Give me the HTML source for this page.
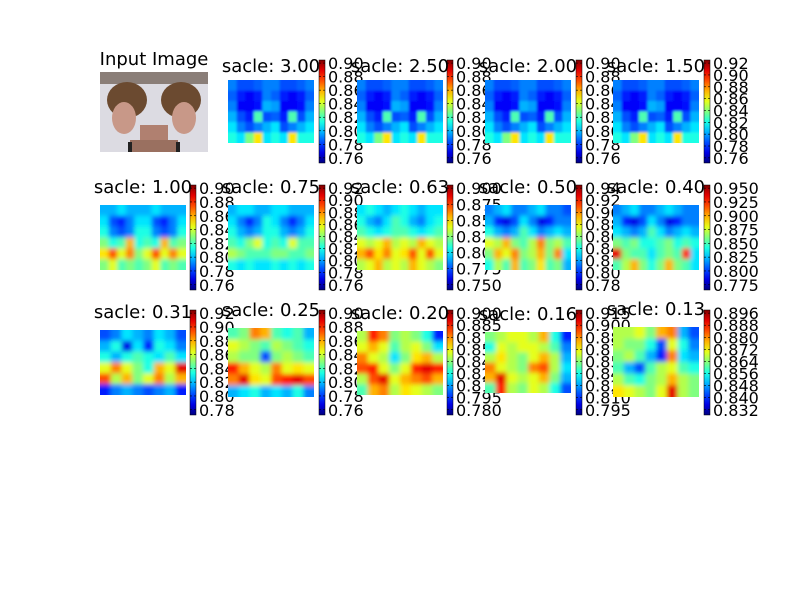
<!DOCTYPE html>
<html><head><meta charset="utf-8"><style>
html,body{margin:0;padding:0;background:#fff;}
svg text{font-family:"DejaVu Sans","Liberation Sans",sans-serif;}
</style></head><body>
<svg id="fig" width="800" height="600" xmlns="http://www.w3.org/2000/svg">
<rect width="800" height="600" fill="#fff"/>
<g>
<text x="154" y="65" font-size="18" text-anchor="middle">Input Image</text>
<rect x="100" y="72" width="108" height="80" fill="#dcdbe2"/>
<rect x="100" y="72" width="108" height="12" fill="#8a7e78"/>
<ellipse cx="127" cy="100" rx="20" ry="18" fill="#6b4a30"/>
<ellipse cx="181" cy="100" rx="20" ry="18" fill="#6b4a30"/>
<ellipse cx="124" cy="118" rx="12" ry="16" fill="#c89888"/>
<ellipse cx="184" cy="118" rx="12" ry="16" fill="#c89888"/>
<rect x="140" y="125" width="28" height="27" fill="#b08070"/>
<rect x="130" y="140" width="48" height="12" fill="#9a7060"/>
<rect x="128" y="142" width="4" height="10" fill="#222"/>
<rect x="176" y="142" width="4" height="10" fill="#222"/>
</g>
<g id="panels"></g>
</svg>
<script>
// Panel titles
const titles = ["sacle: 3.00","sacle: 2.50","sacle: 2.00","sacle: 1.50","sacle: 1.00","sacle: 0.75","sacle: 0.63","sacle: 0.50","sacle: 0.40","sacle: 0.31","sacle: 0.25","sacle: 0.20","sacle: 0.16","sacle: 0.13"];
// Colorbar tick labels
const ticks = [
 ["0.76","0.78","0.80","0.82","0.84","0.86","0.88","0.90"],
 ["0.76","0.78","0.80","0.82","0.84","0.86","0.88","0.90"],
 ["0.76","0.78","0.80","0.82","0.84","0.86","0.88","0.90"],
 ["0.76","0.78","0.80","0.82","0.84","0.86","0.88","0.90","0.92"],
 ["0.76","0.78","0.80","0.82","0.84","0.86","0.88","0.90"],
 ["0.76","0.78","0.80","0.82","0.84","0.86","0.88","0.90","0.92"],
 ["0.750","0.775","0.800","0.825","0.850","0.875","0.900"],
 ["0.78","0.80","0.82","0.84","0.86","0.88","0.90","0.92","0.94"],
 ["0.775","0.800","0.825","0.850","0.875","0.900","0.925","0.950"],
 ["0.78","0.80","0.82","0.84","0.86","0.88","0.90","0.92"],
 ["0.76","0.78","0.80","0.82","0.84","0.86","0.88","0.90"],
 ["0.780","0.795","0.810","0.825","0.840","0.855","0.870","0.885","0.900"],
 ["0.795","0.810","0.825","0.840","0.855","0.870","0.885","0.900","0.915"],
 ["0.832","0.840","0.848","0.856","0.864","0.872","0.880","0.888","0.896"]
];
// Heatmap grids (normalized 0..1 colormap values)
const gridFine = [
 [.25,.2,.2,.22,.25,.25,.2,.2,.22,.25],
 [.22,.15,.12,.15,.25,.22,.15,.12,.15,.22],
 [.25,.12,.12,.14,.3,.28,.12,.12,.14,.25],
 [.3,.2,.15,.45,.2,.22,.15,.45,.2,.3],
 [.35,.25,.2,.25,.3,.35,.2,.25,.3,.35],
 [.4,.35,.5,.65,.35,.4,.35,.65,.4,.4]];
const grid100 = [
 [.3,.3,.35,.3,.3,.3,.35,.3,.3,.3],
 [.35,.2,.15,.25,.35,.35,.2,.15,.25,.35],
 [.4,.25,.2,.25,.4,.4,.25,.2,.25,.4],
 [.5,.4,.45,.7,.4,.45,.4,.7,.45,.5],
 [.65,.8,.6,.75,.5,.6,.8,.6,.75,.6],
 [.5,.6,.45,.5,.45,.5,.6,.45,.5,.45]];
const grid075 = [
 [.3,.35,.35,.3,.3,.35,.35,.3,.3,.3],
 [.35,.25,.15,.25,.4,.35,.25,.15,.25,.35],
 [.4,.3,.25,.3,.4,.4,.3,.25,.3,.4],
 [.45,.4,.5,.6,.4,.45,.4,.6,.45,.45],
 [.55,.5,.45,.45,.45,.5,.5,.45,.45,.5],
 [.4,.35,.4,.35,.35,.4,.35,.4,.35,.4]];
const grid063 = [
 [.35,.4,.35,.3,.35,.4,.35,.3,.35,.35],
 [.4,.3,.25,.35,.45,.4,.3,.25,.35,.4],
 [.45,.4,.35,.4,.45,.45,.4,.35,.4,.45],
 [.6,.55,.6,.7,.55,.6,.55,.7,.6,.55],
 [.7,.8,.65,.75,.6,.65,.8,.6,.8,.6],
 [.55,.6,.7,.55,.6,.55,.7,.6,.55,.5]];
const grid050 = [
 [.25,.3,.35,.25,.25,.3,.35,.25,.25,.2],
 [.3,.15,.1,.2,.35,.25,.1,.15,.25,.25],
 [.4,.3,.25,.3,.45,.35,.25,.3,.35,.3],
 [.6,.55,.7,.5,.45,.55,.75,.5,.55,.45],
 [.5,.7,.6,.75,.5,.55,.7,.5,.75,.35],
 [.4,.55,.45,.7,.45,.5,.65,.45,.5,.3]];
const grid040 = [
 [.25,.3,.35,.25,.25,.3,.35,.3,.25,.25],
 [.3,.15,.1,.2,.35,.25,.1,.15,.25,.25],
 [.35,.3,.25,.3,.45,.35,.25,.3,.35,.3],
 [.5,.45,.5,.4,.4,.45,.5,.4,.45,.4],
 [.9,.5,.45,.45,.35,.45,.5,.45,.85,.35],
 [.45,.55,.7,.5,.4,.5,.7,.5,.45,.35]];
const grid031 = [
 [.2,.25,.35,.3,.25,.35,.3,.2],
 [.3,.4,.1,.35,.15,.4,.35,.25],
 [.4,.3,.4,.45,.4,.35,.45,.35],
 [.6,.75,.6,.5,.4,.7,.6,.9],
 [.8,.55,.7,.5,.6,.75,.55,.7],
 [.15,.25,.3,.25,.2,.25,.3,.15]];
const grid025 = [
 [.45,.5,.75,.7,.45,.4,.45,.3],
 [.6,.55,.5,.45,.55,.5,.45,.4],
 [.55,.5,.5,.2,.5,.55,.5,.45],
 [.85,.7,.6,.55,.75,.6,.65,.6],
 [.75,.9,.65,.6,.8,.85,.9,.8],
 [.3,.35,.4,.3,.35,.3,.4,.25]];
const grid020 = [
 [.55,.85,.75,.5,.55,.5,.4,.15],
 [.6,.7,.6,.45,.55,.6,.5,.35],
 [.75,.6,.55,.35,.5,.65,.7,.55],
 [.8,.85,.6,.5,.6,.85,.9,.85],
 [.55,.8,.9,.6,.7,.75,.8,.7],
 [.45,.7,.75,.55,.65,.6,.55,.5]];
const grid016 = [
 [.5,.55,.6,.6,.55,.7,.4,.15],
 [.4,.6,.55,.6,.6,.55,.45,.25],
 [.55,.65,.55,.5,.6,.7,.55,.3],
 [.75,.6,.55,.5,.75,.8,.55,.35],
 [.7,.9,.6,.55,.6,.7,.5,.3],
 [.45,.85,.55,.5,.6,.55,.4,.2]];
const grid013 = [
 [.55,.55,.6,.5,.7,.75,.3,.2],
 [.55,.5,.5,.4,.2,.6,.4,.25],
 [.5,.55,.45,.3,.15,.75,.35,.3],
 [.45,.3,.2,.45,.55,.6,.45,.4],
 [.55,.45,.4,.5,.55,.7,.55,.5],
 [.65,.6,.55,.5,.6,.9,.55,.5]];
const grids = [gridFine,gridFine,gridFine,gridFine,grid100,grid075,grid063,grid050,grid040,grid031,grid025,grid020,grid016,grid013];

function jet(v){
  v=Math.max(0,Math.min(1,v));
  const r=Math.max(0,Math.min(1,1.5-Math.abs(4*v-3)));
  const g=Math.max(0,Math.min(1,1.5-Math.abs(4*v-2)));
  const b=Math.max(0,Math.min(1,1.5-Math.abs(4*v-1)));
  return `rgb(${Math.round(r*255)},${Math.round(g*255)},${Math.round(b*255)})`;
}
const NS="http://www.w3.org/2000/svg";
const host=document.getElementById('panels');
function mk(tag,attrs,parent){const e=document.createElementNS(NS,tag);for(const k in attrs)e.setAttribute(k,attrs[k]);parent.appendChild(e);return e;}
const colX=[100,228,357,485,613];
const cbX=[190,319,447,576,704];
const rowImg=[[80,63],[205,65],[330,65]];
const row3Img=[[330,65],[328,69],[331,64],[332,61],[327,70]];
const rowCb=[[60,163],[185,290],[310,415]];
const defs=mk('defs',{},host);
const lg=mk('linearGradient',{id:'jetg',x1:0,y1:1,x2:0,y2:0},defs);
for(let i=0;i<=10;i++)mk('stop',{offset:i/10,'stop-color':jet(i/10)},lg);
const flt=mk('filter',{id:'soft',x:'-20%',y:'-20%',width:'140%',height:'140%'},defs);
mk('feGaussianBlur',{stdDeviation:2.5},flt);
const flt2=mk('filter',{id:'fine',x:'-20%',y:'-20%',width:'140%',height:'140%'},defs);
mk('feGaussianBlur',{stdDeviation:1.2},flt2);

for(let p=0;p<14;p++){
  const slot=p<4?p+1:(p<9?p-4:p-9);
  const row=p<4?0:(p<9?1:2);
  const g=mk('g',{},host);
  
  
  const x=colX[slot],[y,h]=(row===2?row3Img[slot]:rowImg[row]),w=86;
  const grid=grids[p];
  const nr=grid.length,nc=grid[0].length;
  const hm=mk('g',{},g);
  
  
  const clip=mk('clipPath',{id:'c'+p},defs);
  mk('rect',{x:x,y:y,width:w,height:h},clip);
  hm.setAttribute('clip-path','url(#c'+p+')');
  const inner=mk('g',{},hm);
  inner.setAttribute('filter',p>=4?'url(#soft)':'url(#fine)');
  const pad=10;
  grid.forEach((r,i)=>r.forEach((v,j)=>{
    let cx0=x+j*w/nc, cy0=y+i*h/nr, cw=w/nc+0.5, ch=h/nr+0.5;
    if(j===0){cx0-=pad;cw+=pad;} if(j===nc-1){cw+=pad;}
    if(i===0){cy0-=pad;ch+=pad;} if(i===nr-1){ch+=pad;}
    const c=mk('rect',{x:cx0,y:cy0,width:cw,height:ch,fill:jet(v)},inner);
    
    
  }));
  const cx=cbX[slot],[ct,cbm]=rowCb[row];
  const cb=mk('g',{},g);
  
  
  mk('rect',{x:cx,y:ct,width:6,height:cbm-ct,fill:'url(#jetg)',stroke:'#000','stroke-width':0.5},cb);
  const tk=ticks[p],n=tk.length;
  const span=(cbm-ct)*0.92, base=cbm-(cbm-ct)*0.05;
  tk.forEach((t,i)=>{
    const ty=base-i*span/(n-1);
    mk('line',{x1:cx,x2:cx+2,y1:ty,y2:ty,stroke:'#000','stroke-width':0.6},cb);
    mk('line',{x1:cx+4,x2:cx+6,y1:ty,y2:ty,stroke:'#000','stroke-width':0.6},cb);
    const tl=mk('text',{x:cx+9,y:ty+6,'font-size':16},cb);
    tl.textContent=t;
    
    
  });
  const ty0=(row===2?y:rowImg[row][0]);
  const tt=mk('text',{x:x+w/2,y:ty0-(row===0?8:12),'font-size':18,'text-anchor':'middle'},g);
  tt.textContent=titles[p];
  
  
}
</script>
</body></html>
